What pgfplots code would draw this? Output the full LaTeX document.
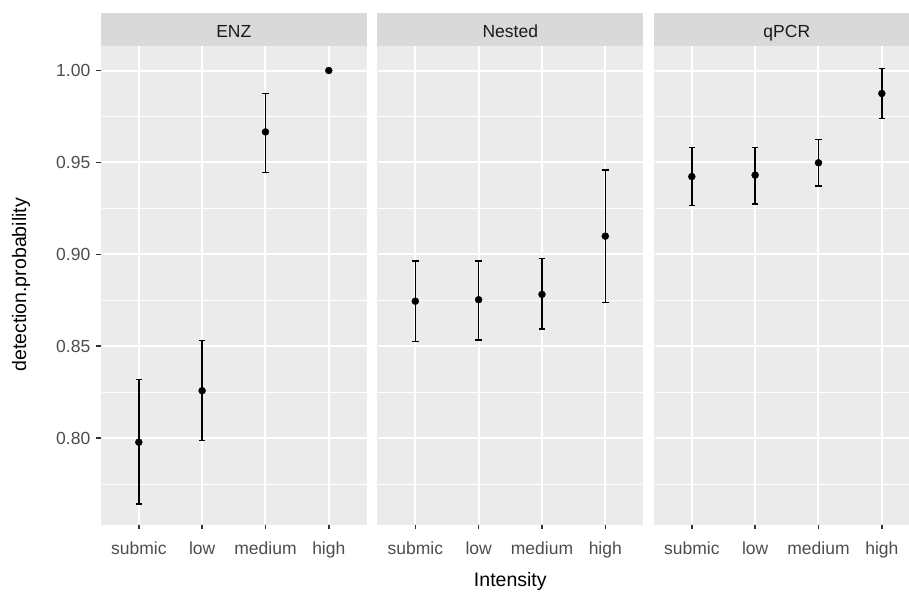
\documentclass[border=0pt]{standalone}
\usepackage{pgfplots}
\pgfplotsset{compat=1.18}
\usepackage{pgfplotstable}
\usepackage{fontspec}
\setmainfont{Liberation Sans}
\definecolor{panelbg}{HTML}{EBEBEB}
\definecolor{stripbg}{HTML}{D9D9D9}
\definecolor{striptext}{HTML}{1A1A1A}
\definecolor{ticktext}{HTML}{4D4D4D}
\definecolor{tickline}{HTML}{333333}

\pgfplotstableread{
x y ep em
0 0.7978 0.0342 0.0337
1 0.8258 0.0274 0.0271
2 0.9666 0.0209 0.0220
3 1.0000 0.0000 0.0000
}\enz
\pgfplotstableread{
x y ep em
0 0.8745 0.0219 0.0219
1 0.8753 0.0211 0.0219
2 0.8782 0.0194 0.0189
3 0.9099 0.0360 0.0362
}\nested
\pgfplotstableread{
x y ep em
0 0.9423 0.0157 0.0158
1 0.9431 0.0149 0.0158
2 0.9498 0.0127 0.0127
3 0.9875 0.0135 0.0137
}\qpcr

\pgfplotsset{panel/.style={
  scale only axis, width=266pt, height=478.3pt, anchor=south west,
  xmin=-0.6, xmax=3.6, ymin=0.7533, ymax=1.0135,
  axis background/.style={fill=panelbg},
  axis x line*=bottom, axis y line*=left,
  axis line style={draw=panelbg, line width=0.1pt, -},
  xtick={0,1,2,3}, xticklabels={submic,low,medium,high},
  ytick={0.80,0.85,0.90,0.95,1.00},
  minor ytick={0.775,0.825,0.875,0.925,0.975},
  xmajorgrids=true, ymajorgrids=true, yminorgrids=true,
  major grid style={draw=white, line width=2pt},
  minor grid style={draw=white, line width=1pt},
  ticklabel style={font=\fontsize{17.5}{19}\selectfont, text=ticktext, inner sep=0pt},
  xticklabel style={yshift=-12.5pt},
  yticklabel style={xshift=-5.3pt},
  clip=false,
  xtick align=outside, ytick align=outside,
  major tick length=5pt, minor tick length=0pt,
  tick style={draw=tickline, line width=1.6pt},
}}
\newcommand{\strip}[1]{%
  \fill[stripbg] (rel axis cs:0,1) rectangle ([yshift=33pt]rel axis cs:1,1);
  \node[font=\fontsize{17.5}{19}\selectfont, text=striptext, anchor=base, inner sep=0pt] at ([yshift=8pt]rel axis cs:0.5,1) {#1};
}
\newcommand{\series}[1]{%
  \addplot[black, only marks, mark=*, mark size=3.5pt,
    error bars/.cd, y dir=both, y explicit,
    error bar style={line width=1.5pt, black},
    error mark options={rotate=90, mark size=3.2pt, line width=1.5pt, black}]
    table[x=x, y=y, y error plus=ep, y error minus=em]{#1};
}

\begin{document}
\begin{tikzpicture}
\begin{axis}[panel, at={(100.8pt,67pt)},
  yticklabels={0.80,0.85,0.90,0.95,1.00},
  ylabel={detection.probability},
  ylabel style={at={(axis description cs:-0.300,0.5)}, anchor=center, font=\fontsize{19.5}{22}\selectfont, text=black}]
\strip{ENZ}
\series{\enz}
\end{axis}
\begin{axis}[panel, at={(377.3pt,67pt)}, ymajorticks=false,
  xlabel={Intensity},
  xlabel style={at={(axis description cs:0.5,0)}, anchor=base, yshift=-62.7pt, font=\fontsize{19.5}{22}\selectfont, text=black}]
\strip{Nested}
\series{\nested}
\end{axis}
\begin{axis}[panel, at={(653.8pt,67pt)}, ymajorticks=false]
\strip{qPCR}
\series{\qpcr}
\end{axis}
\pgfresetboundingbox
\useasboundingbox (0,0) rectangle (909pt,591pt);
\end{tikzpicture}
\end{document}
